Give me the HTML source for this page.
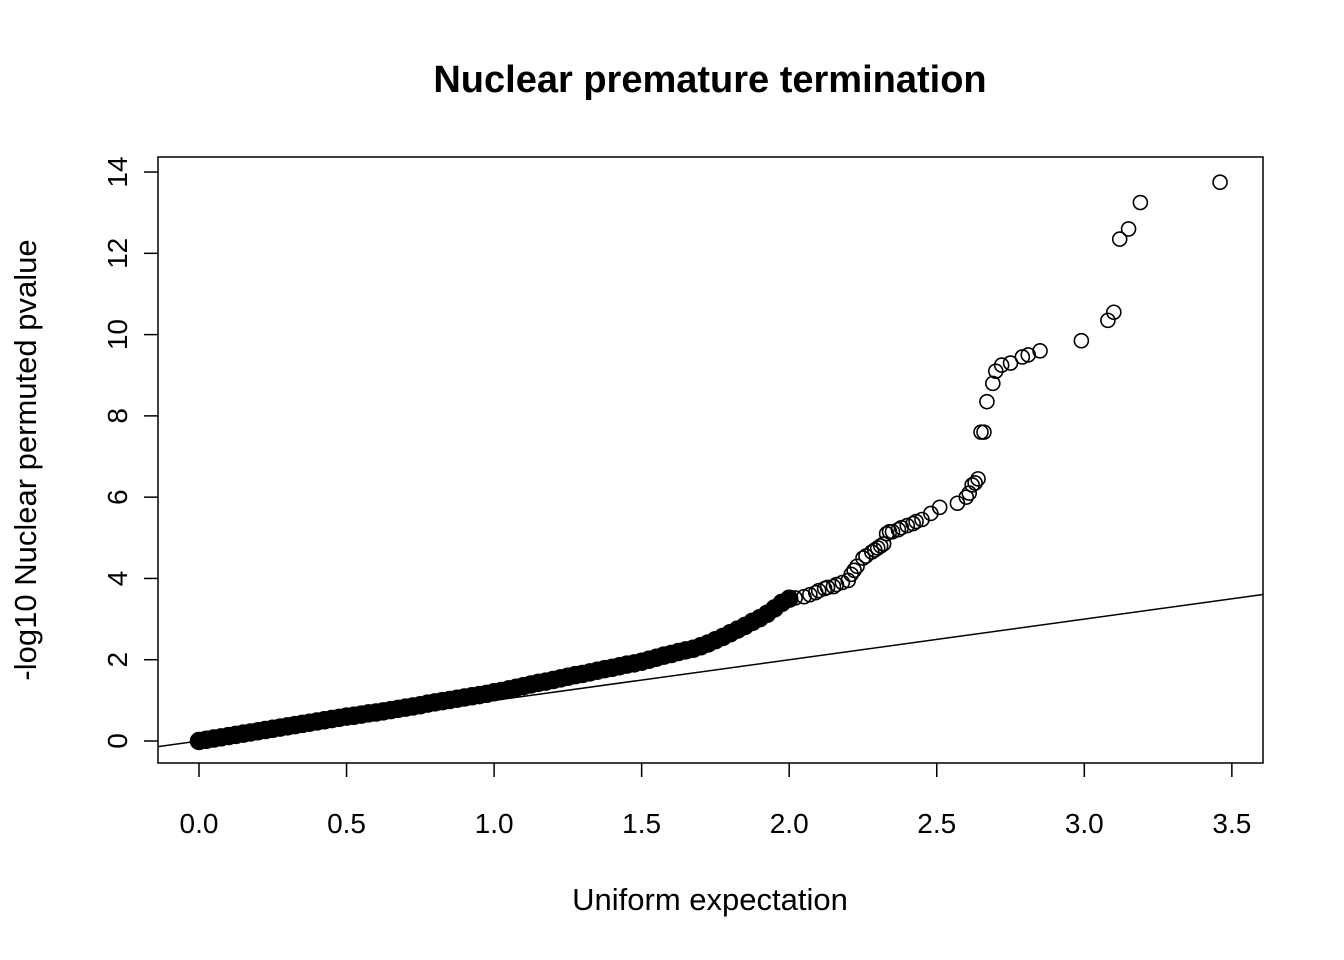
<!DOCTYPE html>
<html><head><meta charset="utf-8"><style>
html,body{margin:0;padding:0;background:#fff;}
svg{display:block;font-family:"Liberation Sans",Arial,sans-serif;}
</style></head><body>
<svg id="chart" width="1344" height="960" viewBox="0 0 1344 960">
<text x="710" y="92" text-anchor="middle" font-size="38" font-weight="bold">Nuclear premature termination</text>
<rect x="158" y="157" width="1105" height="606" fill="none" stroke="#000" stroke-width="1.5"/>
<text x="710" y="910" text-anchor="middle" font-size="31">Uniform expectation</text>
<text transform="translate(36,460) rotate(-90)" text-anchor="middle" font-size="31">-log10 Nuclear permuted pvalue</text>
<g id="axes"></g>
<g id="refline"></g>
<g id="points"></g>
</svg>
<script>
const xTicks = [0.0, 0.5, 1.0, 1.5, 2.0, 2.5, 3.0, 3.5];
const xTickLabels = ["0.0","0.5","1.0","1.5","2.0","2.5","3.0","3.5"];
const yTicks = [0, 2, 4, 6, 8, 10, 12, 14];
const yTickLabels = ["0","2","4","6","8","10","12","14"];
// dense body of the QQ plot (expected, observed)
const denseX = [0,0.025,0.05,0.075,0.1,0.125,0.15,0.175,0.2,0.225,0.25,0.275,0.3,0.325,0.35,0.375,0.4,0.425,0.45,0.475,0.5,0.525,0.55,0.575,0.6,0.625,0.65,0.675,0.7,0.725,0.75,0.775,0.8,0.825,0.85,0.875,0.9,0.925,0.95,0.975,1.0,1.025,1.05,1.075,1.1,1.125,1.15,1.175,1.2,1.225,1.25,1.275,1.3,1.325,1.35,1.375,1.4,1.425,1.45,1.475,1.5,1.525,1.55,1.575,1.6,1.625,1.65,1.675,1.7,1.725,1.75,1.775,1.8,1.825,1.85,1.875,1.9,1.925,1.95,1.975,2.0];
const denseY = [0,0.03,0.06,0.09,0.12,0.15,0.18,0.21,0.24,0.27,0.3,0.33,0.36,0.39,0.42,0.45,0.48,0.51,0.54,0.57,0.6,0.62,0.65,0.68,0.7,0.73,0.76,0.79,0.82,0.85,0.88,0.92,0.95,0.98,1.01,1.04,1.07,1.1,1.13,1.16,1.2,1.23,1.27,1.31,1.35,1.39,1.43,1.46,1.5,1.54,1.58,1.62,1.65,1.69,1.73,1.77,1.8,1.84,1.88,1.91,1.95,2.0,2.05,2.1,2.14,2.19,2.23,2.27,2.33,2.4,2.48,2.56,2.65,2.74,2.83,2.93,3.02,3.13,3.26,3.4,3.5];
// sparse tail
const tailX = [2.02,2.05,2.07,2.09,2.1,2.12,2.13,2.15,2.16,2.18,2.2,2.21,2.22,2.23,2.25,2.26,2.28,2.29,2.3,2.31,2.32,2.33,2.34,2.35,2.37,2.38,2.4,2.42,2.43,2.45,2.48,2.51,2.57,2.6,2.61,2.62,2.63,2.64,2.65,2.66,2.67,2.69,2.7,2.72,2.75,2.79,2.81,2.85,2.99,3.08,3.1,3.12,3.15,3.19,3.46];
const tailY = [3.52,3.55,3.6,3.65,3.7,3.75,3.78,3.8,3.85,3.9,3.95,4.1,4.2,4.3,4.5,4.55,4.65,4.7,4.75,4.8,4.85,5.1,5.15,5.15,5.2,5.25,5.3,5.35,5.4,5.45,5.6,5.75,5.85,6.0,6.1,6.3,6.35,6.45,7.6,7.6,8.35,8.8,9.1,9.25,9.3,9.45,9.5,9.6,9.85,10.35,10.55,12.35,12.6,13.25,13.75];
const refSlope = 1, refIntercept = 0;

const NS = "http://www.w3.org/2000/svg";
const X0 = 158, X1 = 1263, Y0 = 157, Y1 = 763;
function sx(v){ return 199 + v * 295.1; }
function sy(v){ return 741 - v * 40.64; }
function mk(tag, attrs, parent){ const e = document.createElementNS(NS, tag); for (const k in attrs) e.setAttribute(k, attrs[k]); parent.appendChild(e); return e; }

const axes = document.getElementById('axes');
xTicks.forEach((t,i)=>{
  const l = mk('line',{x1:sx(t),x2:sx(t),y1:Y1,y2:Y1+14,stroke:'#000','stroke-width':1.5},axes);
  
  
  const tx = mk('text',{x:sx(t),y:Y1+70,'text-anchor':'middle','font-size':28},axes);
  tx.textContent = xTickLabels[i];
  
  
});
yTicks.forEach((t,i)=>{
  const l = mk('line',{x1:X0-14,x2:X0,y1:sy(t),y2:sy(t),stroke:'#000','stroke-width':1.5},axes);
  
  
  const tx = mk('text',{transform:`translate(${X0-31},${sy(t)}) rotate(-90)`,'text-anchor':'middle','font-size':28},axes);
  tx.textContent = yTickLabels[i];
  
  
});

const rl = document.getElementById('refline');
const xa = (X0-199)/295.1, xb = (X1-199)/295.1;
const line = mk('line',{x1:sx(xa),y1:sy(refIntercept+refSlope*xa),x2:sx(xb),y2:sy(refIntercept+refSlope*xb),stroke:'#000','stroke-width':1.5},rl);



const pts = document.getElementById('points');
denseX.forEach((x,i)=>{
  const c = mk('circle',{cx:sx(x),cy:sy(denseY[i]),r:8.5,fill:'#000',stroke:'#000','stroke-width':1.5},pts);
  
  
});
tailX.forEach((x,i)=>{
  const c = mk('circle',{cx:sx(x),cy:sy(tailY[i]),r:7,fill:'none',stroke:'#000','stroke-width':1.6},pts);
  
  
});
</script>
</body></html>
